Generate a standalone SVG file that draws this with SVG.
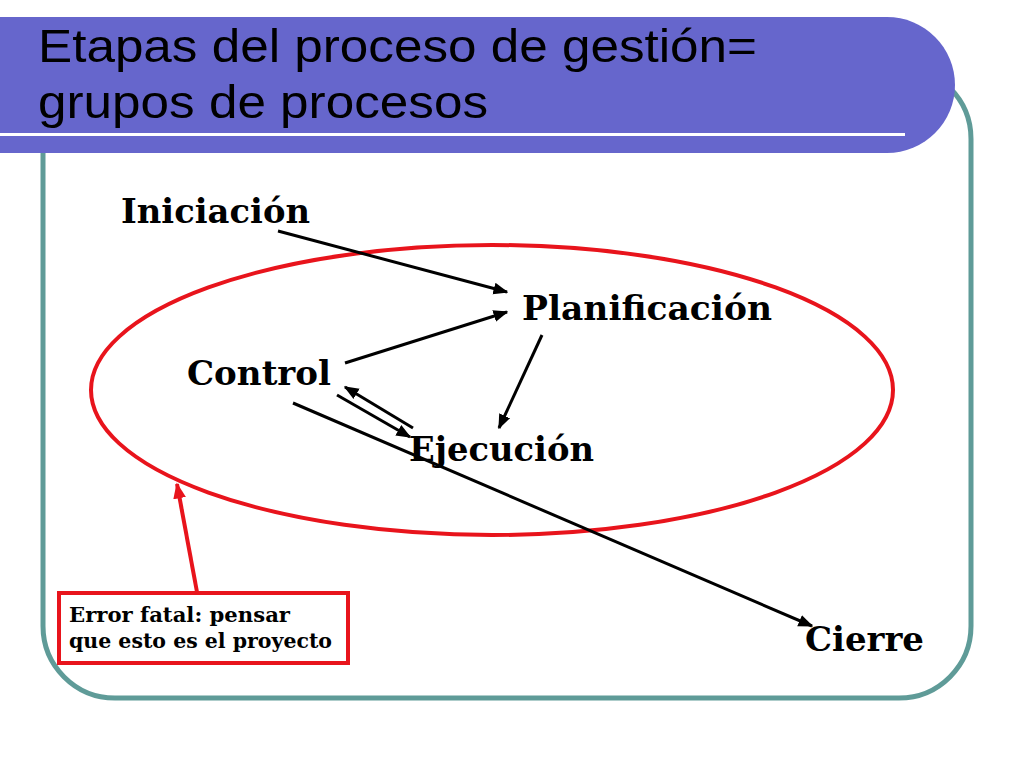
<svg xmlns="http://www.w3.org/2000/svg" width="1024" height="768" viewBox="0 0 1024 768">
<defs>
<marker id="ah" viewBox="0 0 10 10" refX="9" refY="5" markerWidth="5" markerHeight="5" orient="auto" markerUnits="strokeWidth">
<path d="M0,1 L10,5 L0,9 Z" fill="#000"/>
</marker>
<marker id="ahr" viewBox="0 0 10 10" refX="9" refY="5" markerWidth="4" markerHeight="4" orient="auto" markerUnits="strokeWidth">
<path d="M0,1 L10,5 L0,9 Z" fill="#e8141c"/>
</marker>
<style>
.lbl{font-family:"DejaVu Serif","Liberation Serif",serif;font-weight:bold;font-size:34px;fill:#000}
.note{font-family:"DejaVu Serif","Liberation Serif",serif;font-weight:bold;font-size:20px;fill:#000}
.title{font-family:"Liberation Sans",Arial,sans-serif;font-size:47px;fill:#000}
.conn{stroke:#000;stroke-width:3;fill:none;marker-end:url(#ah)}
</style>
</defs>
<rect width="1024" height="768" fill="#fff"/>
<rect id="frame" x="43" y="67" width="928" height="631" rx="72" ry="72" fill="none" stroke="#5f9b98" stroke-width="5"/>
<g id="banner">
<path d="M0,17 H887 A68,68 0 0 1 955,85 A68,68 0 0 1 887,153 H0 Z" fill="#6666cc"/>
<rect x="0" y="133" width="905" height="3" fill="#fff"/>
<text class="title" x="38" y="62" textLength="719" lengthAdjust="spacingAndGlyphs">Etapas del proceso de gestión=</text>
<text class="title" x="38" y="118" textLength="450" lengthAdjust="spacingAndGlyphs">grupos de procesos</text>
</g>
<ellipse id="cycle" cx="492" cy="390" rx="401" ry="145" fill="none" stroke="#e8141c" stroke-width="4"/>
<g id="iniciacion"><text class="lbl" x="121" y="223" textLength="189" lengthAdjust="spacingAndGlyphs">Iniciación</text></g>
<g id="planificacion"><text class="lbl" x="522" y="320" textLength="250" lengthAdjust="spacingAndGlyphs">Planificación</text></g>
<g id="control"><text class="lbl" x="187" y="385" textLength="144" lengthAdjust="spacingAndGlyphs">Control</text></g>
<g id="ejecucion"><text class="lbl" x="409" y="461" textLength="185" lengthAdjust="spacingAndGlyphs">Ejecución</text></g>
<g id="cierre"><text class="lbl" x="805" y="651" textLength="119" lengthAdjust="spacingAndGlyphs">Cierre</text></g>
<g id="error">
<rect x="59" y="593" width="289" height="70" fill="#fff" stroke="#e8141c" stroke-width="4"/>
<text class="note" x="69" y="622" textLength="221" lengthAdjust="spacingAndGlyphs">Error fatal: pensar</text>
<text class="note" x="69" y="648" textLength="263" lengthAdjust="spacingAndGlyphs">que esto es el proyecto</text>
</g>
<g id="connectors">
<line class="conn" x1="278" y1="231" x2="507" y2="292"/>
<line class="conn" x1="345" y1="363" x2="507" y2="312"/>
<line class="conn" x1="542" y1="335" x2="499" y2="428"/>
<line class="conn" x1="413" y1="428" x2="345" y2="387"/>
<line class="conn" x1="337" y1="395" x2="410" y2="437"/>
<line class="conn" x1="293" y1="403" x2="812" y2="626"/>
<line x1="197" y1="592" x2="177" y2="484" stroke="#e8141c" stroke-width="4" marker-end="url(#ahr)"/>
</g>
</svg>
